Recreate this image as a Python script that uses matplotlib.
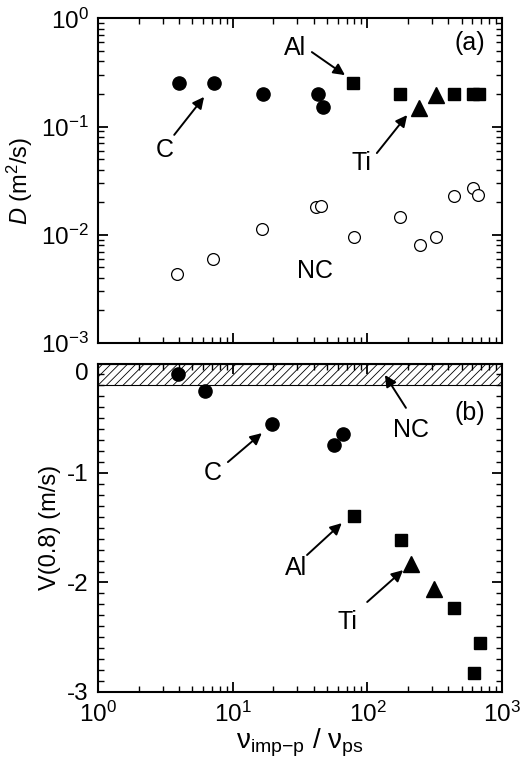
import matplotlib
matplotlib.use('Agg')
import matplotlib.pyplot as plt
import matplotlib.transforms as mtransforms
from matplotlib.ticker import MultipleLocator, LogLocator, NullFormatter
import numpy as np

plt.rcParams['font.family'] = 'Liberation Sans'
plt.rcParams['mathtext.fontset'] = 'custom'
plt.rcParams['mathtext.rm'] = 'Liberation Sans'
plt.rcParams['mathtext.it'] = 'Liberation Sans:italic'
plt.rcParams['axes.unicode_minus'] = False
plt.rcParams['xtick.direction'] = 'in'
plt.rcParams['ytick.direction'] = 'in'
plt.rcParams['hatch.linewidth'] = 0.6
plt.rcParams['font.size'] = 18

# (a) D vs collision frequency ratio
c_nu = [3.97, 7.3, 16.6, 43, 46.8]
c_D = [0.25, 0.25, 0.2, 0.2, 0.15]
al_nu = [78, 175, 437, 610, 680]
al_D = [0.25, 0.2, 0.2, 0.2, 0.2]
ti_nu = [243, 325]
ti_D = [0.148, 0.195]
nc_nu = [3.87, 7.17, 16.4, 41.4, 45.1, 79.8, 175, 247, 325, 437, 609, 660]
nc_D = [0.00433, 0.0060, 0.0112, 0.0179, 0.0184, 0.0096, 0.0145, 0.0081,
        0.0096, 0.0228, 0.0272, 0.0233]

# (b) V(0.8)
c_nu_b = [3.9, 6.2, 19.6, 56, 66]
c_V = [-0.1, -0.25, -0.555, -0.744, -0.647]
al_nu_b = [80, 177, 438, 682, 614]
al_V = [-1.39, -1.61, -2.23, -2.55, -2.83]
ti_nu_b = [211, 311]
ti_V = [-1.83, -2.06]
nc_band = [-0.2, 0.0]   # NC range, hatched
v_ticks = [-3, -2, -1, 0]
v_ticklabels = ['-3', '-2', '-1', '0']


def style(ax):
    for s in ax.spines.values():
        s.set_linewidth(1.5)
    ax.set_xscale('log')
    ax.set_xlim(1, 1000)
    ax.xaxis.set_major_locator(LogLocator(base=10))
    ax.xaxis.set_minor_locator(LogLocator(base=10, subs=np.arange(2, 10)))
    ax.xaxis.set_minor_formatter(NullFormatter())
    ax.tick_params(which='both', top=True, right=True)
    ax.tick_params(which='major', length=7, width=1.3, pad=7, labelsize=17.5)
    ax.tick_params(which='minor', length=4, width=1.0)


def arrow(ax, start, tip):
    ax.annotate('', xy=tip, xytext=start, xycoords='axes fraction',
                textcoords='axes fraction',
                arrowprops=dict(arrowstyle='-|>', color='black', lw=1.4,
                                mutation_scale=17, shrinkA=0, shrinkB=0))


fig = plt.figure(figsize=(5.3, 7.6), dpi=100)

ax1 = fig.add_axes([0.1855, 0.5487, 0.7617, 0.4272])
style(ax1)
ax1.set_yscale('log')
ax1.set_ylim(1e-3, 1)
ax1.yaxis.set_major_locator(LogLocator(base=10))
ax1.yaxis.set_minor_locator(LogLocator(base=10, subs=np.arange(2, 10)))
ax1.yaxis.set_minor_formatter(NullFormatter())
ax1.tick_params(axis='x', labelbottom=False)

ax1.plot(c_nu, c_D, 'o', color='black', ms=9.5)
ax1.plot(al_nu, al_D, 's', color='black', ms=9)
ax1.plot(ti_nu, ti_D, '^', color='black', ms=11)
ax1.plot(nc_nu, nc_D, 'o', mfc='white', mec='black', mew=0.9, ms=8.5)
ax1.set_ylabel('$\\mathit{D}$ (m$^2$/s)', fontsize=17)

ax1.text(0.165, 0.594, 'C', transform=ax1.transAxes, ha='center', va='center')
arrow(ax1, (0.188, 0.641), (0.262, 0.758))
ax1.text(0.487, 0.909, 'Al', transform=ax1.transAxes, ha='center', va='center')
arrow(ax1, (0.529, 0.896), (0.611, 0.825))
ax1.text(0.653, 0.554, 'Ti', transform=ax1.transAxes, ha='center', va='center')
arrow(ax1, (0.690, 0.585), (0.765, 0.702))
ax1.text(0.537, 0.222, 'NC', transform=ax1.transAxes, ha='center', va='center')
ax1.text(0.921, 0.924, '(a)', transform=ax1.transAxes, ha='center', va='center')

ax2 = fig.add_axes([0.1855, 0.0895, 0.7617, 0.4322])
style(ax2)
ax2.set_ylim(-3, 0)
ax2.set_yticks(v_ticks, v_ticklabels[:-1] + [''])
ax2.yaxis.set_minor_locator(MultipleLocator(0.1))
# top label sits a little lower, clear of the panel above
off = mtransforms.ScaledTranslation(-7 / 72, -6 / 72, fig.dpi_scale_trans)
ax2.text(0, v_ticks[-1], v_ticklabels[-1], fontsize=17.5, ha='right', va='center_baseline',
         transform=ax2.get_yaxis_transform() + off)
ax2.axhspan(nc_band[0], nc_band[1], facecolor='white', edgecolor='black',
            hatch='////', linewidth=0.8, zorder=1)

ax2.plot(c_nu_b, c_V, 'o', color='black', ms=9.5, zorder=3)
ax2.plot(al_nu_b, al_V, 's', color='black', ms=9, zorder=3)
ax2.plot(ti_nu_b, ti_V, '^', color='black', ms=11, zorder=3)
ax2.set_ylabel('V(0.8) (m/s)', fontsize=17)
ax2.set_xlabel('$\\mathrm{\\nu_{imp{-}p}}$ / $\\mathrm{\\nu_{ps}}$', fontsize=20, labelpad=0)

ax2.text(0.774, 0.798, 'NC', transform=ax2.transAxes, ha='center', va='center')
arrow(ax2, (0.762, 0.865), (0.710, 0.965))
ax2.text(0.921, 0.849, '(b)', transform=ax2.transAxes, ha='center', va='center')
ax2.text(0.284, 0.667, 'C', transform=ax2.transAxes, ha='center', va='center')
arrow(ax2, (0.321, 0.700), (0.405, 0.788))
ax2.text(0.490, 0.377, 'Al', transform=ax2.transAxes, ha='center', va='center')
arrow(ax2, (0.517, 0.417), (0.603, 0.514))
ax2.text(0.618, 0.213, 'Ti', transform=ax2.transAxes, ha='center', va='center')
arrow(ax2, (0.666, 0.274), (0.755, 0.371))

fig.savefig('out.png', dpi=100)
